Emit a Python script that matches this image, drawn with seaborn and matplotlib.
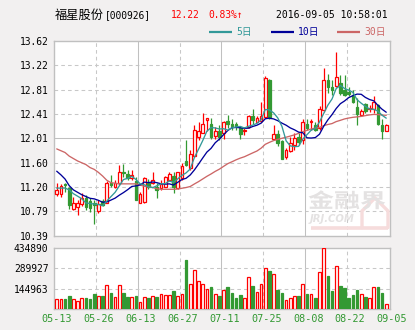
import numpy as np
import pandas as pd
import matplotlib
matplotlib.use("Agg")
import matplotlib.pyplot as plt
import matplotlib.transforms as mtransforms
from matplotlib.textpath import TextPath
from matplotlib.patches import PathPatch
from matplotlib.font_manager import FontProperties
import seaborn as sns

# ---- daily quotes, 福星股份 000926 ----
date_labels = ["05-13", "05-26", "06-13", "06-27", "07-11", "07-25", "08-08", "08-22", "09-05"]

opens = [11.08, 11.08, 11.25, 11.18, 10.83, 10.86, 10.91, 11.01, 10.97, 10.93,
         10.80, 10.97, 10.94, 11.27, 11.20, 11.26, 11.45, 11.42, 11.34, 11.30,
         10.94, 10.95, 11.26, 11.26, 11.20, 11.18, 11.20, 11.31, 11.38, 11.18,
         11.35, 11.63, 11.51, 11.72, 12.02, 12.10, 12.31, 12.25, 12.05, 12.12,
         12.09, 12.29, 12.25, 12.24, 12.17, 12.13, 12.20, 12.38, 12.28, 12.30,
         12.36, 12.98, 11.99, 12.08, 11.96, 11.69, 11.80, 11.89, 12.03, 11.98,
         12.25, 12.27, 12.23, 12.17, 12.48, 12.98, 12.85, 12.87, 12.92, 12.81,
         12.78, 12.72, 12.53, 12.39, 12.57, 12.49, 12.49, 12.55, 12.23, 12.13]

closes = [11.15, 11.22, 11.23, 10.90, 10.94, 10.94, 11.01, 10.87, 10.85, 10.90,
          10.91, 10.90, 11.26, 11.23, 11.26, 11.44, 11.43, 11.35, 11.40, 10.99,
          11.08, 11.35, 11.19, 11.32, 11.15, 11.25, 11.36, 11.41, 11.20, 11.44,
          11.54, 11.56, 11.74, 12.15, 12.13, 12.25, 12.35, 12.03, 12.13, 12.03,
          12.28, 12.24, 12.21, 12.21, 12.08, 12.15, 12.38, 12.31, 12.35, 12.38,
          13.01, 12.34, 12.07, 11.92, 11.67, 11.81, 11.92, 12.01, 11.95, 12.28,
          12.17, 12.29, 12.15, 12.49, 12.98, 12.86, 12.81, 13.02, 12.75, 12.72,
          12.74, 12.61, 12.41, 12.46, 12.46, 12.51, 12.60, 12.25, 12.12, 12.22]

highs = [11.26, 11.25, 11.27, 11.20, 11.04, 10.98, 11.10, 11.07, 11.01, 10.98,
         10.98, 11.00, 11.29, 11.39, 11.31, 11.56, 11.58, 11.48, 11.48, 11.37,
         11.12, 11.37, 11.33, 11.44, 11.26, 11.31, 11.38, 11.45, 11.45, 11.45,
         11.59, 11.97, 11.81, 12.22, 12.28, 12.42, 12.35, 12.35, 12.20, 12.22,
         12.29, 12.39, 12.33, 12.27, 12.21, 12.19, 12.39, 12.50, 12.38, 12.60,
         13.04, 12.99, 12.23, 12.14, 11.98, 11.84, 12.03, 12.09, 12.09, 12.33,
         12.32, 12.33, 12.28, 12.54, 13.17, 13.08, 12.97, 13.43, 13.06, 13.06,
         12.86, 12.81, 12.67, 12.50, 12.59, 12.56, 12.70, 12.57, 12.32, 12.24]

lows = [11.05, 11.04, 11.12, 10.83, 10.82, 10.74, 10.89, 10.82, 10.79, 10.58,
        10.77, 10.89, 10.93, 11.20, 11.18, 11.23, 11.37, 11.31, 11.31, 10.98,
        10.93, 10.94, 11.16, 11.25, 11.01, 11.15, 11.19, 11.29, 11.10, 11.16,
        11.31, 11.54, 11.48, 11.70, 11.98, 12.09, 12.13, 11.99, 11.99, 11.98,
        11.99, 12.17, 12.14, 12.14, 11.99, 12.06, 12.18, 12.25, 12.27, 12.27,
        12.35, 12.32, 11.98, 11.88, 11.66, 11.67, 11.78, 11.82, 11.89, 11.91,
        12.15, 12.15, 12.12, 12.14, 12.45, 12.75, 12.72, 12.86, 12.72, 12.70,
        12.70, 12.59, 12.23, 12.38, 12.42, 12.45, 12.42, 12.23, 11.99, 12.12]

volumes = [71685, 71685, 71685, 93190, 71685, 57348, 78854, 78854, 74075, 107528,
           93190, 93190, 172044, 114696, 86022, 172044, 114696, 86022, 86022, 93190,
           50180, 86022, 78854, 93190, 86022, 107528, 100359, 100359, 129033, 93190,
           107528, 351257, 179213, 279572, 200718, 179213, 143370, 157707, 107528, 93190,
           136202, 157707, 114696, 78854, 100359, 78854, 229392, 164876, 121865, 179213,
           289130, 272403, 250898, 136202, 114696, 64517, 78854, 93190, 93190, 179213,
           107528, 107528, 78854, 265235, 434890, 236561, 129033, 308246, 164876, 150539,
           78854, 100359, 136202, 107528, 86022, 78854, 157707, 157707, 114696, 35843]

ma5 = [11.18, 11.18, 11.18, 11.15, 11.087, 11.046, 11.004, 10.933, 10.924, 10.915,
       10.909, 10.887, 10.964, 11.038, 11.110, 11.216, 11.322, 11.341, 11.375, 11.322,
       11.250, 11.235, 11.202, 11.187, 11.218, 11.251, 11.254, 11.299, 11.275, 11.332,
       11.391, 11.431, 11.496, 11.686, 11.824, 11.967, 12.124, 12.183, 12.178, 12.160,
       12.165, 12.143, 12.178, 12.194, 12.203, 12.177, 12.205, 12.225, 12.253, 12.312,
       12.484, 12.476, 12.428, 12.343, 12.203, 11.963, 11.880, 11.867, 11.872, 11.994,
       12.066, 12.140, 12.169, 12.277, 12.417, 12.555, 12.658, 12.831, 12.884, 12.832,
       12.807, 12.768, 12.646, 12.588, 12.536, 12.491, 12.488, 12.457, 12.388, 12.340]

ma10 = [11.46, 11.40, 11.33, 11.22, 11.15, 11.11, 11.07, 11.04, 11.01, 11.001,
        10.977, 10.945, 10.949, 10.981, 11.013, 11.062, 11.105, 11.153, 11.207, 11.216,
        11.233, 11.279, 11.271, 11.281, 11.270, 11.251, 11.244, 11.250, 11.231, 11.275,
        11.321, 11.342, 11.397, 11.480, 11.578, 11.679, 11.777, 11.839, 11.932, 11.992,
        12.066, 12.134, 12.181, 12.186, 12.181, 12.171, 12.174, 12.202, 12.223, 12.257,
        12.330, 12.340, 12.327, 12.298, 12.257, 12.223, 12.178, 12.147, 12.108, 12.098,
        12.014, 12.010, 12.018, 12.074, 12.205, 12.311, 12.399, 12.500, 12.580, 12.625,
        12.681, 12.713, 12.739, 12.736, 12.684, 12.649, 12.628, 12.552, 12.488, 12.438]

ma30 = [11.83, 11.80, 11.77, 11.71, 11.67, 11.63, 11.60, 11.57, 11.52, 11.49,
        11.44, 11.38, 11.31, 11.27, 11.26, 11.25, 11.25, 11.25, 11.25, 11.25,
        11.23, 11.21, 11.20, 11.19, 11.17, 11.16, 11.16, 11.16, 11.16, 11.164,
        11.177, 11.189, 11.206, 11.248, 11.287, 11.331, 11.375, 11.414, 11.457, 11.494,
        11.540, 11.585, 11.616, 11.649, 11.677, 11.700, 11.732, 11.764, 11.795, 11.842,
        11.906, 11.939, 11.968, 11.988, 12.006, 12.024, 12.043, 12.063, 12.088, 12.116,
        12.137, 12.161, 12.175, 12.186, 12.215, 12.235, 12.250, 12.283, 12.304, 12.327,
        12.342, 12.354, 12.361, 12.369, 12.382, 12.394, 12.402, 12.400, 12.392, 12.387]

price_labels = ["10.39", "10.79", "11.20", "11.60", "12.01", "12.41", "12.81", "13.22", "13.62"]
volume_labels = ["144963", "289927", "434890"]

# ---- style ----
BG = "#f2f0f0"
RED = "#ff0000"
GREEN = "#339933"
C5, C10, C30 = "#339999", "#000099", "#cc6666"
FRAME = "#c0c0c0"
GRID = "#c8c8c8"

sns.set_style("white")
plt.rcParams["font.family"] = ["DejaVu Sans Mono", "Noto Sans CJK SC"]

W, H = 415, 330
fig = plt.figure(figsize=(W / 100, H / 100), dpi=100, facecolor=BG)


def px_box(x0, y0, x1, y1):
    return [x0 / W, 1 - y1 / H, (x1 - x0) / W, (y1 - y0) / H]


ax = fig.add_axes(px_box(54, 41, 390, 235.7))
axv = fig.add_axes(px_box(54, 248, 390, 309))

df = pd.DataFrame({"i": np.arange(len(closes)), "open": opens, "close": closes,
                   "high": highs, "low": lows, "vol": volumes,
                   "ma5": ma5, "ma10": ma10, "ma30": ma30})
up = (df["close"] >= df["open"]).values
x = df["i"].values
XL = (-0.65, 79.9)
dash = (0, (3.5, 3))
lw_px = 0.75
BW = 0.64

# ---- price panel ----
p_lo, p_hi = float(price_labels[0]), float(price_labels[-1])
levels = np.linspace(p_lo, p_hi, len(price_labels))
ax.set_facecolor("white")
ax.set_xlim(*XL)
ax.set_ylim(p_lo, p_hi)
for k, lv in enumerate(levels[1:-1], start=1):
    ax.axhline(lv, color=FRAME if k == 4 else GRID, lw=lw_px,
               ls="-" if k == 4 else dash, zorder=0)
for k, gx in enumerate(np.arange(9.5, 79, 10)):
    solid = k % 2 == 1
    for a in (ax, axv):
        a.axvline(gx, color=FRAME if solid else GRID, lw=lw_px,
                  ls="-" if solid else dash, zorder=0)

cols = np.where(up, RED, GREEN)
ax.vlines(x, df["low"], df["high"], colors=cols, lw=0.9, zorder=2)
body_lo = np.minimum(df["open"], df["close"]).values
body_h = np.maximum(np.abs(df["close"] - df["open"]).values, 0.012)
ax.bar(x[up], body_h[up], bottom=body_lo[up], width=BW, facecolor="white",
       edgecolor=RED, lw=0.9, zorder=3)
ax.bar(x[~up], body_h[~up], bottom=body_lo[~up], width=BW, facecolor=GREEN,
       edgecolor=GREEN, lw=0.9, zorder=3)

for col, c in (("ma30", C30), ("ma10", C10), ("ma5", C5)):
    sns.lineplot(data=df, x="i", y=col, color=c, lw=0.95, ax=ax, legend=False,
                 sort=False, zorder=4)

ax.set_yticks(levels)
ax.set_yticklabels(price_labels)
ax.set_xticks([])
ax.set_xlabel("")
ax.set_ylabel("")
ax.tick_params(axis="y", length=0, pad=4, labelsize=6.9, colors="black")

# ---- volume panel ----
v_max = float(volume_labels[-1])
axv.set_facecolor("white")
axv.set_xlim(*XL)
axv.set_ylim(0, v_max)
for lv in (float(volume_labels[0]), float(volume_labels[1])):
    axv.axhline(lv, color=GRID, lw=lw_px, ls=dash, zorder=0)
vol = df["vol"].values
axv.bar(x[up], vol[up], width=BW, facecolor="white", edgecolor=RED, lw=0.9, zorder=3)
axv.bar(x[~up], vol[~up], width=BW, facecolor=GREEN, edgecolor=GREEN, lw=0.9, zorder=3)
axv.set_yticks([float(v) for v in volume_labels])
axv.set_yticklabels(volume_labels)
axv.set_xticks([])
axv.tick_params(axis="y", length=0, pad=4, labelsize=6.9, colors="black")

trans = mtransforms.blended_transform_factory(axv.transData, axv.transAxes)
for k, lab in enumerate(date_labels):
    axv.text(k * 10.05, -9.5 / 61, lab, transform=trans, ha="center", va="center",
             fontsize=7.3, color=GREEN, clip_on=False)

for a in (ax, axv):
    for s in a.spines.values():
        s.set_color(FRAME)
        s.set_linewidth(1.0)
        s.set_visible(True)

# ---- header, legend and site mark (pixel coordinates) ----
ov = fig.add_axes([0, 0, 1, 1], facecolor="none")
ov.set_xlim(0, W)
ov.set_ylim(H, 0)
ov.axis("off")

# faint site mark in the lower right of the price panel
ov.plot([311, 388], [227.5, 227.5], color="#f6dcdc", lw=2.6, solid_capstyle="butt", zorder=1)
ov.plot([362, 362, 375, 388, 388], [227.5, 211, 198, 211, 227.5], color="#f6dcdc",
        lw=2.4, solid_joinstyle="miter", zorder=1)
mark = TextPath((0, 0), "金融界", size=1,
                prop=FontProperties(family="Noto Sans CJK SC", weight="bold"))
mark_tf = mtransforms.Affine2D().scale(26.0, -20.0).translate(308, 207.5)
ov.add_patch(PathPatch(mark_tf.transform_path(mark), facecolor="#e4e2e2",
                       edgecolor="none", zorder=2))
ov.text(332, 219, "JRJ.COM", ha="center", va="center", fontsize=7.2,
        fontweight="bold", style="italic", color="#e4e2e2", family="DejaVu Sans", zorder=2)

ov.text(55, 15.5, "福星股份", ha="left", va="center", fontsize=8.8,
        family="Noto Sans CJK SC", color="black")
ov.text(105, 15, "[000926]", ha="left", va="center", fontsize=6.9, color="black")
ov.text(171, 15, "12.22", ha="left", va="center", fontsize=6.9, color=RED)
ov.text(208, 15, "0.83%↑", ha="left", va="center", fontsize=6.9, color=RED,
        family=["DejaVu Sans Mono", "DejaVu Sans"])
ov.text(276, 15, "2016-09-05 10:58:01", ha="left", va="center", fontsize=7.0, color="black")
for x0, lab, c in ((209, "5日", C5), (271, "10日", C10), (337, "30日", C30)):
    ov.plot([x0, x0 + 23], [32, 32], color=c, lw=1.6, solid_capstyle="butt")
    ov.text(x0 + 27, 32, lab, ha="left", va="center", fontsize=7.0, color=c)

fig.savefig("out.png", dpi=100, facecolor=BG)
